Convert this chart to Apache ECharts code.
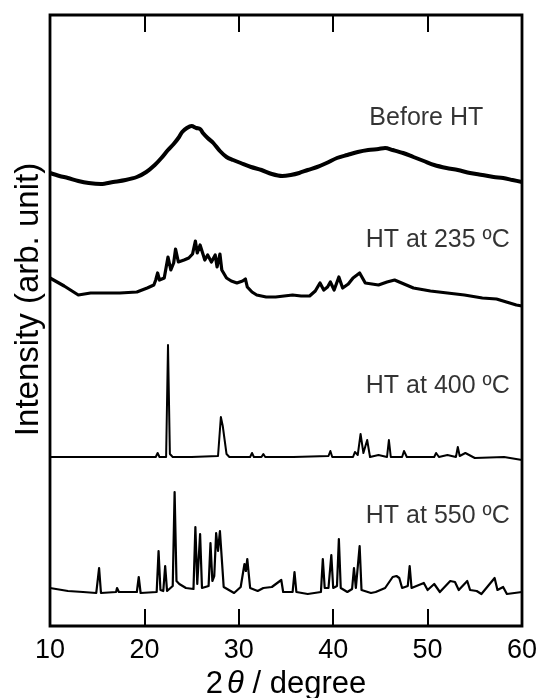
<!DOCTYPE html>
<html>
<head>
<meta charset="utf-8">
<script src="https://cdn.jsdelivr.net/npm/echarts@6/dist/echarts.min.js"></script>
<style>
  html, body { margin: 0; padding: 0; background: #fff; }
  #xrd { width: 539px; height: 698px; }
</style>
</head>
<body>
<div id="xrd"></div>
<script>
// 2theta (deg) and intensity (arb. unit, traces already stacked with offsets)
const beforeX = [10, 11.0, 11.9, 13.0, 14.1, 15.4, 16.7, 18.0, 19.2, 20.2, 21.1, 21.8, 22.5, 23.1, 23.6, 24.0, 24.5, 25.0, 25.5, 25.9, 26.2, 26.7, 27.3, 28.0, 28.7, 29.4, 30.2, 31.3, 32.4, 33.5, 34.6, 35.5, 36.4, 37.3, 38.3, 39.3, 40.4, 41.5, 42.6, 43.7, 44.8, 45.5, 46.3, 47.4, 48.5, 49.6, 50.7, 52.0, 53.2, 54.5, 55.8, 57.0, 58.0, 59.0, 60];
const beforeY = [453, 450, 448, 445, 443, 442, 444, 446, 449, 454, 461, 468, 476, 482, 488, 494, 498, 500, 498, 497, 493, 488, 483, 475, 469, 466, 463, 459, 456, 452, 450, 451, 453, 456, 459, 463, 468, 471, 474, 476, 477, 478, 476, 473, 469, 465, 461, 458, 456, 453, 451, 449, 448, 446, 444];

const ht235X = [10, 11.5, 13.0, 14.3, 15.6, 17.4, 19.2, 20.3, 21.0, 21.2, 21.4, 21.6, 22.1, 22.3, 22.5, 22.8, 23.1, 23.3, 23.6, 24.2, 24.7, 25.1, 25.4, 25.6, 25.9, 26.2, 26.4, 26.7, 27.1, 27.5, 27.7, 28.0, 28.2, 28.7, 29.2, 29.8, 30.4, 30.7, 30.9, 31.4, 31.9, 32.9, 33.9, 34.8, 35.7, 36.6, 37.5, 38.1, 38.6, 39.0, 39.4, 39.7, 40.1, 40.6, 41.0, 41.6, 42.1, 42.8, 43.4, 44.1, 44.8, 45.7, 46.5, 47.5, 48.5, 50.3, 52.1, 53.9, 55.8, 57.3, 58.7, 59.4, 60];
const ht235Y = [348, 340, 331, 333, 333, 333, 334, 338, 341, 346, 353, 346, 348, 350, 369, 356, 363, 377, 364, 366, 368, 372, 385, 373, 381, 372, 366, 371, 364, 371, 359, 372, 356, 348, 345, 343, 345, 347, 339, 334, 331, 329, 329, 330, 331, 330, 330, 335, 343, 336, 339, 344, 336, 349, 338, 342, 348, 353, 343, 342, 341, 344, 346, 342, 338, 335, 333, 331, 328, 327, 323, 321, 320];

const ht400X = [10, 15.0, 21.2, 21.4, 21.6, 22.3, 22.5, 22.7, 23.0, 25.0, 27.8, 28.1, 28.3, 28.5, 28.7, 29.0, 31.2, 31.4, 31.6, 32.4, 32.6, 32.8, 35.4, 35.6, 35.8, 39.5, 39.7, 39.9, 42.1, 42.3, 42.6, 42.9, 43.2, 43.6, 43.9, 44.8, 45.7, 45.9, 46.1, 47.3, 47.5, 47.8, 50.7, 50.9, 51.2, 52.1, 53.0, 53.2, 53.4, 54.0, 55.0, 58.1, 60];
const ht400Y = [169, 169, 169, 173, 169, 169, 281, 172, 169, 169, 170, 209, 200, 202, 172, 169, 169, 173, 169, 169, 172, 169, 169, 171, 169, 170, 175, 169, 169, 174, 171, 192, 173, 186, 169, 171, 169, 186, 169, 169, 175, 169, 169, 173, 169, 171, 169, 179, 170, 173, 168, 169, 166];

const ht550X = [10, 11.9, 13.5, 14.9, 15.0, 15.2, 15.4, 17.0, 17.1, 17.3, 18.3, 19.2, 19.4, 19.6, 21.3, 21.5, 21.7, 22.0, 22.2, 22.4, 23.0, 23.2, 23.4, 23.7, 24.4, 25.2, 25.4, 25.6, 25.75, 25.9, 26.1, 26.8, 27.0, 27.2, 27.4, 27.6, 27.8, 28.0, 28.4, 29.5, 30.2, 30.6, 30.75, 30.9, 31.2, 32.0, 32.6, 33.5, 34.5, 34.7, 35.7, 35.9, 36.1, 37.3, 38.7, 38.9, 39.1, 39.5, 39.8, 40.0, 40.4, 40.6, 40.8, 41.5, 42.0, 42.2, 42.4, 42.6, 42.8, 43.0, 44.0, 44.5, 45.5, 46.3, 46.7, 47.0, 47.3, 47.9, 48.1, 48.3, 49.6, 50.0, 50.7, 51.3, 52.4, 52.9, 53.3, 54.2, 54.5, 55.2, 55.7, 57.1, 57.4, 58.0, 58.4, 60];
const ht550Y = [38, 35, 34, 33, 33, 58, 33, 34, 38, 34, 34, 34, 49, 33, 34, 75, 36, 35, 60, 35, 40, 134, 45, 42, 38, 37, 99, 42, 40, 92, 38, 40, 83, 45, 50, 93, 75, 95, 39, 33, 39, 62, 55, 67, 38, 35, 38, 39, 46, 34, 34, 54, 34, 32, 34, 67, 38, 38, 71, 38, 40, 87, 38, 34, 37, 58, 38, 40, 80, 36, 33, 34, 38, 49, 50, 48, 38, 40, 60, 38, 43, 36, 42, 34, 45, 44, 36, 45, 36, 35, 32, 48, 36, 39, 32, 34];

const sampleNames = ['Before HT', 'HT at 235 ºC', 'HT at 400 ºC', 'HT at 550 ºC'];
const labelX = [55.9, 58.7, 58.7, 58.7];
const labelY = [508, 386, 240, 110];

function pairs(xs, ys) {
  return xs.map((x, i) => [x, ys[i]]);
}

let chart = echarts.init(document.getElementById('xrd'));
const font = 'Liberation Sans, Arial, Helvetica, sans-serif';

// [x, y, line width, smoothing]
let traces = [[beforeX, beforeY, 4, 0.3], [ht235X, ht235Y, 3.2, 0], [ht400X, ht400Y, 2, 0], [ht550X, ht550Y, 2.2, 0]];

let series = traces.map(t => ({
  type: 'line',
  data: pairs(t[0], t[1]),
  showSymbol: false,
  symbol: 'none',
  smooth: t[3],
  lineStyle: { color: '#000', width: t[2], join: 'round' },
  silent: true,
  animation: false
}));

series.push({
  type: 'scatter',
  symbolSize: 0,
  data: sampleNames.map((n, i) => ({ value: [labelX[i], labelY[i]], name: n })),
  label: {
    show: true,
    position: [0, 0],
    align: 'right',
    verticalAlign: 'middle',
    formatter: p => p.name,
    color: '#000',
    fontSize: 25,
    fontFamily: font
  },
  silent: true,
  animation: false
});

let option = {
  animation: false,
  grid: {
    left: 50, right: 17, top: 15, bottom: 72,
    containLabel: false,
    outerBoundsMode: 'none',
    show: true, borderColor: '#000', borderWidth: 2.8, backgroundColor: 'transparent'
  },
  xAxis: [
    {
      type: 'value', min: 10, max: 60, interval: 10, position: 'bottom',
      axisLine: { show: false },
      axisTick: { show: true, inside: true, length: 17, lineStyle: { color: '#000', width: 2 } },
      axisLabel: { color: '#000', fontSize: 27, fontFamily: font, margin: 11 },
      splitLine: { show: false },
      name: '{a|2}{i|θ}{a| / degree}',
      nameLocation: 'middle',
      nameGap: 34,
      nameTextStyle: {
        rich: {
          a: { fontSize: 31, fontFamily: font, color: '#000' },
          i: { fontSize: 31, fontFamily: font, fontStyle: 'italic', color: '#000', padding: [0, 0, 0, 4] }
        }
      }
    },
    {
      type: 'value', min: 10, max: 60, interval: 10, position: 'top',
      axisLine: { show: false },
      axisTick: { show: true, inside: true, length: 17, lineStyle: { color: '#000', width: 2 } },
      axisLabel: { show: false },
      splitLine: { show: false }
    }
  ],
  yAxis: {
    type: 'value', min: 0, max: 611,
    axisLine: { show: false },
    axisTick: { show: false },
    axisLabel: { show: false },
    splitLine: { show: false },
    name: 'Intensity (arb. unit)',
    nameLocation: 'middle',
    nameGap: 5,
    nameTextStyle: { fontSize: 33, fontFamily: font, color: '#000', padding: [0, 0, 0, 42] }
  },
  series: series
};

chart.setOption(option);
</script>
</body>
</html>
